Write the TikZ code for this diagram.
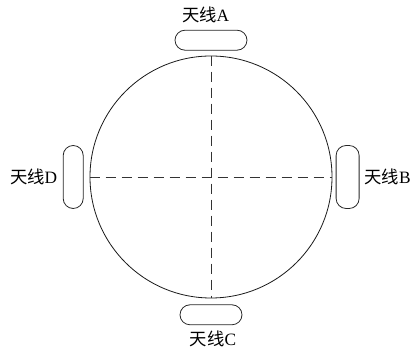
\documentclass[tikz,border=0pt]{standalone}
\usepackage{fontspec}
\setmainfont{Liberation Serif}
\newfontfamily\cjk{Noto Sans CJK SC}
\usepackage{tikz}
\usetikzlibrary{positioning}

\begin{document}
\begin{tikzpicture}[
    x=0.75pt, y=-0.75pt,
    disc/.style={circle, draw=black!90, line width=0.6pt, inner sep=0pt,
                 minimum size=181.5pt},
    antenna/.style={rectangle, draw=black!85, line width=0.6pt,
                    rounded corners=7.5pt, inner sep=0pt},
    label/.style={inner sep=0pt, font=\fontsize{13}{15}\selectfont},
    axis/.style={dash pattern=on 8pt off 4pt, line width=0.6pt, draw=black!80}
]
\useasboundingbox (0,0) rectangle (412,352);

\node[disc] (disc) at (211,177) {};

% antennas round the disc
\node[antenna, minimum width=54pt, minimum height=15pt, above=3.75pt of disc]   (antA) {};
\node[antenna, minimum width=17.25pt, minimum height=47.25pt, right=2.5pt of disc] (antB) {};
\node[antenna, minimum width=46.5pt, minimum height=15pt, below=4.5pt of disc]   (antC) {};
\node[antenna, minimum width=15pt, minimum height=47.25pt, left=4.5pt of disc]  (antD) {};

\node[label, above=5pt of antA, xshift=-4pt] (labA) {{\cjk 天线}A};
\node[label, right=3.5pt of antB]            (labB) {{\cjk 天线}B};
\node[label, below=4pt of antC, xshift=1.5pt] (labC) {{\cjk 天线}C};
\node[label, left=4pt of antD]               (labD) {{\cjk 天线}D};

% cross lines
\draw[axis] (disc.north) -- (disc.south);
\draw[axis] (disc.west) -- (disc.east);
\end{tikzpicture}
\end{document}
